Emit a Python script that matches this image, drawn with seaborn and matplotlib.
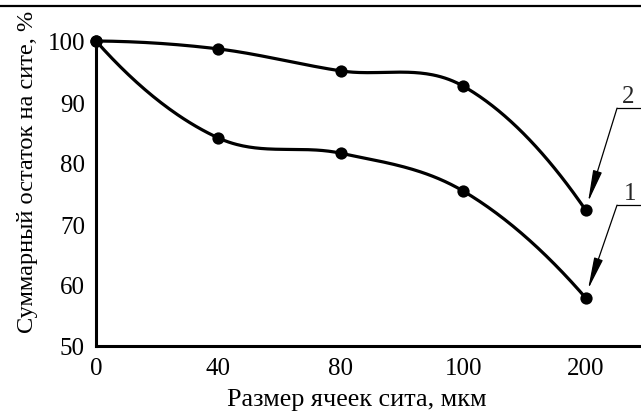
import numpy as np
import pandas as pd
import matplotlib
matplotlib.use("Agg")
import matplotlib.pyplot as plt
import seaborn as sns

# ---- data ----
sizes = ["0", "40", "80", "100", "200"]
curve1 = [100.0, 84.1, 81.6, 75.4, 57.9]
curve2 = [100.0, 98.7, 95.1, 92.6, 72.3]
y_ticks = [50, 60, 70, 80, 90, 100]
x_label = "Размер ячеек сита, мкм"
y_label = "Суммарный остаток на сите, %"
curve_names = ["1", "2"]

sns.set_theme(style="white")
plt.rcParams["font.family"] = ["Liberation Serif", "DejaVu Serif"]


def smooth(yv, n=60):
    """Cubic Hermite curve through the points (rendering only)."""
    y = np.asarray(yv, float)
    k = len(y)
    d = np.diff(y)
    m = np.zeros(k)
    m[1:-1] = (d[:-1] + d[1:]) / 2
    m[0] = 2 * d[0] - m[1]
    m[-1] = 2 * d[-1] - m[-2]
    xs, ys = [], []
    for i in range(k - 1):
        t = np.linspace(0, 1, n, endpoint=(i == k - 2))
        h00 = 2 * t**3 - 3 * t**2 + 1
        h10 = t**3 - 2 * t**2 + t
        h01 = -2 * t**3 + 3 * t**2
        h11 = t**3 - t**2
        xs.append(i + t)
        ys.append(h00 * y[i] + h10 * m[i] + h01 * y[i + 1] + h11 * m[i + 1])
    return np.concatenate(xs), np.concatenate(ys)


fig = plt.figure(figsize=(6.41, 4.14), dpi=100)
ax = fig.add_axes([96 / 641, 1 - 347 / 414, 1 - 96 / 641, (347 - 7) / 414])

pos = np.arange(len(sizes))
for name, vals in zip(curve_names, [curve1, curve2]):
    sx, sy = smooth(vals)
    dfl = pd.DataFrame({"x": sx, "y": sy})
    sns.lineplot(data=dfl, x="x", y="y", ax=ax, color="black", lw=2.3,
                 sort=False, estimator=None, clip_on=False)
    dfp = pd.DataFrame({"x": pos, "y": vals})
    sns.scatterplot(data=dfp, x="x", y="y", ax=ax, color="black", s=78,
                    edgecolor="black", linewidth=0, clip_on=False, zorder=5)

ax.set_xlim(0, (641 - 96) / 122.4)
ax.set_ylim(50, 50 + 340 / 6.1)
ax.set_xticks(pos)
ax.set_xticklabels(sizes)
ax.set_yticks(y_ticks)
ax.set_yticklabels([str(v) for v in y_ticks])
ax.tick_params(axis="both", direction="out", length=4.5, width=2, colors="black",
               labelsize=18, pad=3.5)
for s in ["top", "right"]:
    ax.spines[s].set_visible(False)
for s in ["left", "bottom"]:
    ax.spines[s].set_linewidth(2.2)
    ax.spines[s].set_color("black")
ax.spines["left"].set_bounds(50, 100)
ax.set_xlabel(x_label, fontsize=18.8, color="black")
ax.set_ylabel(y_label, fontsize=17.6, color="black")
ax.xaxis.set_label_coords((357 - 96) / 545, -(389 - 347) / 340)
ax.yaxis.set_label_coords(-(96 - 38) / 545, (347 - 171.5) / 340)

# annotations
arrow = dict(arrowstyle="-|>,head_length=1.4,head_width=0.2", lw=0.9,
             color="black", mutation_scale=14, shrinkA=0, shrinkB=0)
# label 2
ax.annotate("", xy=(4.02, 73.6), xytext=(4.257, 89.0), arrowprops=arrow,
            annotation_clip=False)
ax.plot([4.257, 4.45], [89.0, 89.0], color="black", lw=0.9, clip_on=False)
ax.text(4.35, 91.0, curve_names[1], fontsize=18, ha="center", va="center")
# label 1
ax.annotate("", xy=(4.02, 59.3), xytext=(4.257, 73.1), arrowprops=arrow,
            annotation_clip=False)
ax.plot([4.257, 4.45], [73.1, 73.1], color="black", lw=0.9, clip_on=False)
ax.text(4.36, 75.0, curve_names[0], fontsize=18, ha="center", va="center")

# top border line of the figure
fig.add_artist(plt.Line2D([0, 1], [1 - 7 / 414, 1 - 7 / 414], color="black",
                          lw=1.6, transform=fig.transFigure))

fig.savefig("out.png", dpi=100)
